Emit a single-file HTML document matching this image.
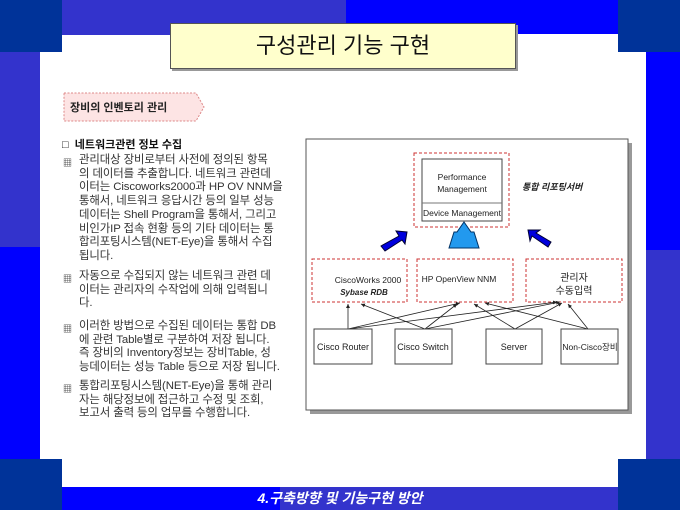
<!DOCTYPE html>
<html><head><meta charset="utf-8"><style>
*{margin:0;padding:0;box-sizing:border-box}
body{width:680px;height:510px;position:relative;overflow:hidden;background:#fff;font-family:"Liberation Sans","Noto Sans CJK KR","NanumGothic",sans-serif}
.a{position:absolute}
.t{position:absolute;font-size:11.4px;color:#333;line-height:13.7px;left:79px;white-space:nowrap;letter-spacing:-0.1px}
.b{position:absolute;left:63px;font-size:9px;color:#333}
</style></head><body>
<div class="a" style="left:0;top:0;width:62px;height:52px;background:#003399"></div>
<div class="a" style="left:62px;top:0;width:284px;height:35px;background:#3333cc"></div>
<div class="a" style="left:346px;top:0;width:272px;height:34px;background:#0000ff"></div>
<div class="a" style="left:618px;top:0;width:62px;height:52px;background:#003399"></div>
<div class="a" style="left:0;top:52px;width:40px;height:195px;background:#3333cc"></div>
<div class="a" style="left:0;top:247px;width:40px;height:212px;background:#0000ff"></div>
<div class="a" style="left:646px;top:52px;width:34px;height:198px;background:#0000ff"></div>
<div class="a" style="left:646px;top:250px;width:34px;height:209px;background:#3333cc"></div>
<div class="a" style="left:0;top:459px;width:62px;height:51px;background:#003399"></div>
<div class="a" style="left:618px;top:459px;width:62px;height:51px;background:#003399"></div>
<div class="a" style="left:62px;top:487px;width:218px;height:23px;background:#0000ff"></div>
<div class="a" style="left:280px;top:487px;width:338px;height:23px;background:#3333cc"></div>
<div class="a" style="left:62px;top:487px;width:556px;height:23px;color:#fff;font-style:italic;font-weight:bold;font-size:14px;text-align:center;line-height:22px">4.구축방향 및 기능구현 방안</div>

<div class="a" style="left:170px;top:23px;width:346px;height:46px;background:#ffffcc;border:1px solid #555;box-shadow:2px 2px 0 #999;font-size:22px;text-align:center;line-height:44px;color:#111">구성관리 기능 구현</div>

<svg class="a" style="left:60px;top:90px" width="150" height="36"><polygon points="4,3 136,3 144,17 136,31 4,31" fill="#fde4e4" stroke="#d88" stroke-dasharray="2,1.5"/><text x="10" y="21" font-size="11" font-weight="bold" fill="#222" font-family="Liberation Sans,Noto Sans CJK KR,sans-serif">장비의 인벤토리 관리</text></svg>

<div class="a" style="left:62px;top:136px;font-size:11px;font-weight:bold;color:#111">□&nbsp;&nbsp;네트워크관련 정보 수집</div>
<div class="b" style="top:156px">▦</div>
<div class="t" style="top:154px">관리대상 장비로부터 사전에 정의된 항목<br>의 데이터를 추출합니다. 네트워크 관련데<br>이터는 Ciscoworks2000과 HP OV NNM을<br>통해서, 네트워크 응답시간 등의 일부 성능<br>데이터는 Shell Program을 통해서, 그리고<br>비인가IP 접속 현황 등의 기타 데이터는 통<br>합리포팅시스템(NET-Eye)을 통해서 수집<br>됩니다.</div>
<div class="b" style="top:272px">▦</div>
<div class="t" style="top:270px">자동으로 수집되지 않는 네트워크 관련 데<br>이터는 관리자의 수작업에 의해 입력됩니<br>다.</div>
<div class="b" style="top:322px">▦</div>
<div class="t" style="top:320px">이러한 방법으로 수집된 데이터는 통합 DB<br>에 관련 Table별로 구분하여 저장 됩니다.<br>즉 장비의 Inventory정보는 장비Table, 성<br>능데이터는 성능 Table 등으로 저장 됩니다.</div>
<div class="b" style="top:382px">▦</div>
<div class="t" style="top:380px">통합리포팅시스템(NET-Eye)을 통해 관리<br>자는 해당정보에 접근하고 수정 및 조회,<br>보고서 출력 등의 업무를 수행합니다.</div>

<svg class="a" style="left:0;top:0" width="680" height="510" font-family="Liberation Sans,Noto Sans CJK KR,sans-serif">
<defs><marker id="m" markerWidth="6" markerHeight="6" refX="5" refY="3" orient="auto"><path d="M0,0.5 L5,3 L0,5.5z" fill="#222"/></marker></defs>
<rect x="310" y="143" width="322" height="271" fill="#999"/>
<rect x="306" y="139" width="322" height="271" fill="#fff" stroke="#555"/>
<rect x="414" y="153" width="95" height="74" fill="none" stroke="#c33" stroke-dasharray="3,2"/>
<rect x="422" y="159" width="80" height="62" fill="#fff" stroke="#444"/>
<line x1="422" y1="203" x2="502" y2="203" stroke="#777"/>
<text x="462" y="180" font-size="8.5" text-anchor="middle" fill="#222">Performance</text>
<text x="462" y="192" font-size="8.5" text-anchor="middle" fill="#222">Management</text>
<text x="462" y="216" font-size="8.5" text-anchor="middle" fill="#222">Device Management</text>
<text x="522" y="190" font-size="9" font-style="italic" font-weight="bold" fill="#222">통합 리포팅서버</text>
<polygon points="381,246 399,236 396,231 407,232 405,244 402,240 385,251" fill="#0000dd" stroke="#003"/>
<polygon points="449,248 454,232 457,232 464,222 471,232 474,232 479,248" fill="#2299ee" stroke="#036"/>
<polygon points="548,247 532,236 530,241 528,230 540,230 536,233 551,242" fill="#0000dd" stroke="#003"/>
<rect x="312" y="259" width="95" height="43" fill="none" stroke="#c33" stroke-dasharray="3,2"/>
<rect x="417" y="259" width="96" height="43" fill="none" stroke="#c33" stroke-dasharray="3,2"/>
<rect x="526" y="259" width="96" height="43" fill="none" stroke="#c33" stroke-dasharray="3,2"/>
<text x="368" y="283" font-size="8.5" text-anchor="middle" fill="#222">CiscoWorks 2000</text>
<text x="364" y="295" font-size="8" font-style="italic" font-weight="bold" text-anchor="middle" fill="#222">Sybase RDB</text>
<text x="459" y="282" font-size="8.5" text-anchor="middle" fill="#222">HP OpenView NNM</text>
<text x="574" y="281" font-size="10" text-anchor="middle" fill="#222">관리자</text>
<text x="574" y="294" font-size="10" text-anchor="middle" fill="#222">수동입력</text>
<g stroke="#222" stroke-width="0.8" marker-end="url(#m)">
<line x1="348" y1="329" x2="348" y2="304"/>
<line x1="348" y1="329" x2="460" y2="303"/>
<line x1="348" y1="329" x2="557" y2="302"/>
<line x1="425" y1="329" x2="361" y2="304"/>
<line x1="425" y1="329" x2="457" y2="304"/>
<line x1="425" y1="329" x2="560" y2="302"/>
<line x1="515" y1="329" x2="474" y2="304"/>
<line x1="515" y1="329" x2="562" y2="303"/>
<line x1="588" y1="329" x2="485" y2="303"/>
<line x1="588" y1="329" x2="568" y2="304"/>
</g>
<g fill="#fff" stroke="#444">
<rect x="314" y="329" width="58" height="35"/><rect x="395" y="329" width="57" height="35"/>
<rect x="486" y="329" width="56" height="35"/><rect x="561" y="329" width="57" height="35"/>
</g>
<g font-size="9" text-anchor="middle" fill="#222">
<text x="343" y="350">Cisco Router</text><text x="423" y="350">Cisco Switch</text>
<text x="514" y="350">Server</text><text x="590" y="350" font-size="8.5">Non-Cisco장비</text>
</g>
</svg>
</body></html>
